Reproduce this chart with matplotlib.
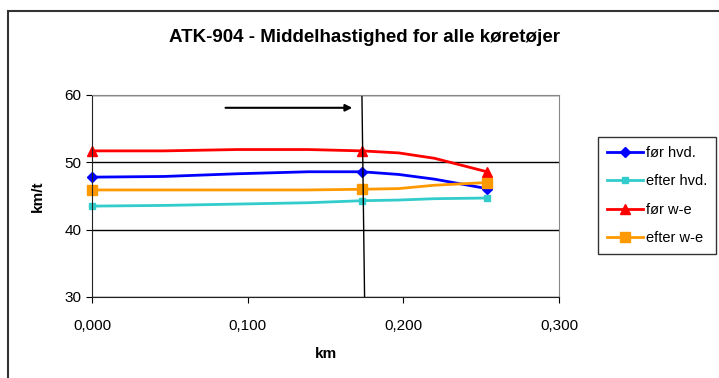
import matplotlib.pyplot as plt
from matplotlib.patches import Rectangle
from matplotlib.ticker import FuncFormatter

plt.rcParams['font.family'] = ['Liberation Sans', 'DejaVu Sans']

# km positions, markers only at index 0, 4, 7
km = [0.0, 0.046, 0.093, 0.139, 0.1734, 0.197, 0.22, 0.2537]
foer_hvd = [47.8, 47.9, 48.3, 48.6, 48.6, 48.2, 47.5, 46.1]
efter_hvd = [43.5, 43.6, 43.8, 44.0, 44.3, 44.4, 44.6, 44.7]
foer_we = [51.7, 51.7, 51.9, 51.9, 51.7, 51.4, 50.6, 48.6]
efter_we = [45.9, 45.9, 45.9, 45.9, 46.0, 46.1, 46.6, 47.0]
marks = [0, 4, 7]

fig = plt.figure(figsize=(7.19, 3.78), dpi=100)
# outer chart frame
fig.patches.append(Rectangle((8 / 719, -0.01), 1.0, 1 - 11 / 378 + 0.01,
                             transform=fig.transFigure, fill=False,
                             edgecolor='#333333', linewidth=1.5))

ax = fig.add_axes([92 / 719, 1 - 297 / 378, (559 - 92) / 719, (297 - 95) / 378])
ax.plot(km, foer_hvd, color='#0000FF', lw=2, marker='D', ms=5, markevery=marks, label='før hvd.', clip_on=False)
ax.plot(km, efter_hvd, color='#33CCCC', lw=2, marker='s', ms=5, markevery=marks, label='efter hvd.', clip_on=False)
ax.plot(km, foer_we, color='#FF0000', lw=2, marker='^', ms=7, markevery=marks, label='før w-e', clip_on=False)
ax.plot(km, efter_we, color='#FF9900', lw=2, marker='s', ms=7, markevery=marks, label='efter w-e', clip_on=False)

# section line and direction arrow
ax.plot([0.1734, 0.1751], [60, 30], color='black', lw=1)
ax.annotate('', xy=(0.169, 58.1), xytext=(0.084, 58.1),
            arrowprops=dict(arrowstyle='-|>', color='black', lw=1.5, mutation_scale=10))

ax.set_xlim(0, 0.3)
ax.set_ylim(30, 60)
ax.set_xticks([0, 0.1, 0.2, 0.3])
ax.set_yticks([30, 40, 50, 60])
ax.xaxis.set_major_formatter(FuncFormatter(lambda v, p: f'{v:.3f}'.replace('.', ',')))
ax.grid(axis='y', color='black', lw=1)
for s in ['top', 'right']:
    ax.spines[s].set_color('#888888')
for s in ['left', 'bottom']:
    ax.spines[s].set_color('#222222')
ax.tick_params(labelsize=11, length=4, direction='out')
ax.tick_params(axis='x', pad=12)
ax.set_xlabel('km', fontsize=11, fontweight='bold', labelpad=10)
ax.set_ylabel('km/t', fontsize=11, fontweight='bold', labelpad=14)

fig.text(365 / 719, 1 - 38 / 378, 'ATK-904 - Middelhastighed for alle køretøjer',
         ha='center', va='center', fontsize=13.5, fontweight='bold')

leg = ax.legend(loc='upper left', bbox_to_anchor=(598 / 719, 1 - 137 / 378),
                bbox_transform=fig.transFigure, frameon=True, fancybox=False,
                fontsize=10.5, handlelength=2.5, handletextpad=0.2,
                borderpad=0.6, labelspacing=1.0, borderaxespad=0)
leg.get_frame().set_edgecolor('black')
leg.get_frame().set_linewidth(1)

fig.savefig('out.png', dpi=100)
